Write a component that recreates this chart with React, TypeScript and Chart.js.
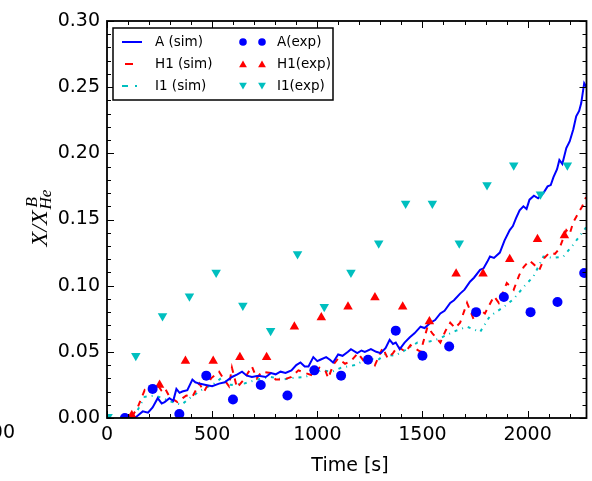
import React, { useEffect, useRef } from 'react';
import { Chart, registerables } from 'chart.js';
Chart.register(...registerables);

// ---- axis settings ----
const xMin = 0;
const xMax = 2280;
const yMin = 0;
const yMax = 0.3;
const xTickValues = [0, 500, 1000, 1500, 2000];
const yTickValues = [0, 0.05, 0.1, 0.15, 0.2, 0.25, 0.3];
const xMinorStep = 100;
const yMinorStep = 0.01;

// ---- experimental data ----
const aExpTime = [85, 217, 344, 472, 599, 731, 858, 986, 1113, 1241, 1373, 1500, 1627, 1755, 1887, 2014, 2142, 2269];
const aExpValue = [0.0, 0.022, 0.003, 0.032, 0.014, 0.025, 0.017, 0.036, 0.032, 0.044, 0.066, 0.047, 0.054, 0.08, 0.0915, 0.08, 0.0877, 0.1096];

const h1ExpTime = [118, 250, 373, 505, 632, 759, 891, 1019, 1146, 1274, 1406, 1533, 1660, 1788, 1915, 2047, 2175];
const h1ExpValue = [0.002, 0.025, 0.043, 0.043, 0.046, 0.046, 0.069, 0.076, 0.084, 0.091, 0.084, 0.073, 0.109, 0.109, 0.12, 0.135, 0.138];

const i1ExpTime = [5, 137, 264, 392, 519, 646, 778, 906, 1033, 1160, 1292, 1420, 1547, 1675, 1807, 1934, 2061, 2189];
const i1ExpValue = [0.001, 0.047, 0.077, 0.092, 0.11, 0.085, 0.066, 0.124, 0.084, 0.11, 0.132, 0.162, 0.162, 0.132, 0.176, 0.191, 0.169, 0.191];

// ---- simulation data ----
const aSimTime = [85, 110, 140, 170, 195, 217, 241, 260, 274, 297, 315, 330, 345, 358, 382, 406, 420, 439, 470, 500, 533, 560, 594, 620, 642, 665, 689, 720, 755, 780, 802, 825, 849, 877, 900, 920, 940, 958, 981, 1000, 1014, 1042, 1060, 1075, 1099, 1120, 1146, 1160, 1190, 1210, 1226, 1255, 1280, 1302, 1325, 1344, 1360, 1373, 1392, 1415, 1440, 1462, 1491, 1510, 1538, 1560, 1585, 1605, 1632, 1650, 1679, 1700, 1726, 1745, 1774, 1790, 1808, 1821, 1840, 1868, 1890, 1915, 1930, 1945, 1962, 1980, 1995, 2009, 2030, 2050, 2075, 2095, 2110, 2123, 2140, 2151, 2165, 2184, 2200, 2217, 2231, 2245, 2255, 2269, 2280];
const aSimValue = [0.0, 0.0, 0.001, 0.005, 0.004, 0.008, 0.015, 0.011, 0.012, 0.015, 0.013, 0.022, 0.019, 0.02, 0.021, 0.029, 0.027, 0.026, 0.025, 0.024, 0.026, 0.027, 0.031, 0.033, 0.035, 0.032, 0.031, 0.032, 0.031, 0.034, 0.033, 0.035, 0.034, 0.036, 0.04, 0.042, 0.039, 0.039, 0.046, 0.043, 0.044, 0.046, 0.044, 0.042, 0.048, 0.047, 0.05, 0.052, 0.049, 0.051, 0.05, 0.052, 0.05, 0.049, 0.053, 0.059, 0.056, 0.057, 0.052, 0.057, 0.061, 0.064, 0.069, 0.068, 0.072, 0.074, 0.079, 0.081, 0.087, 0.089, 0.094, 0.097, 0.103, 0.106, 0.112, 0.113, 0.118, 0.122, 0.121, 0.125, 0.134, 0.142, 0.145, 0.151, 0.157, 0.16, 0.158, 0.165, 0.168, 0.166, 0.17, 0.175, 0.176, 0.182, 0.188, 0.195, 0.192, 0.204, 0.209, 0.218, 0.228, 0.232, 0.238, 0.253, 0.25];

const h1SimTime = [118, 146, 179, 195, 212, 241, 258, 274, 297, 335, 360, 377, 406, 439, 462, 495, 533, 557, 580, 594, 618, 651, 689, 712, 736, 778, 802, 840, 877, 910, 943, 980, 1010, 1038, 1052, 1075, 1099, 1132, 1160, 1193, 1226, 1250, 1274, 1311, 1335, 1360, 1382, 1420, 1443, 1470, 1491, 1524, 1547, 1585, 1610, 1632, 1655, 1679, 1712, 1745, 1770, 1797, 1840, 1863, 1901, 1934, 1960, 1981, 2009, 2030, 2056, 2080, 2104, 2130, 2151, 2184, 2200, 2217, 2245, 2260, 2278];
const h1SimValue = [0.001, 0.008, 0.021, 0.019, 0.023, 0.025, 0.021, 0.023, 0.016, 0.012, 0.015, 0.017, 0.016, 0.026, 0.02, 0.03, 0.035, 0.029, 0.024, 0.038, 0.023, 0.029, 0.039, 0.03, 0.035, 0.034, 0.029, 0.029, 0.031, 0.036, 0.034, 0.032, 0.038, 0.036, 0.03, 0.04, 0.045, 0.041, 0.043, 0.049, 0.042, 0.046, 0.04, 0.053, 0.045, 0.049, 0.054, 0.05, 0.055, 0.052, 0.05, 0.069, 0.064, 0.057, 0.066, 0.072, 0.068, 0.072, 0.087, 0.074, 0.082, 0.079, 0.092, 0.087, 0.102, 0.097, 0.108, 0.114, 0.119, 0.116, 0.112, 0.121, 0.125, 0.124, 0.128, 0.142, 0.139, 0.148, 0.156, 0.16, 0.167];

const i1SimTime = [146, 179, 226, 264, 311, 354, 401, 448, 509, 542, 590, 651, 712, 778, 840, 863, 943, 1019, 1070, 1113, 1179, 1241, 1290, 1321, 1370, 1415, 1476, 1538, 1580, 1618, 1660, 1712, 1774, 1821, 1887, 1934, 1981, 2028, 2075, 2123, 2170, 2217, 2245, 2278];
const i1SimValue = [0.006, 0.016, 0.017, 0.015, 0.012, 0.01, 0.016, 0.021, 0.026, 0.03, 0.025, 0.026, 0.029, 0.031, 0.029, 0.03, 0.031, 0.036, 0.035, 0.038, 0.04, 0.045, 0.044, 0.048, 0.047, 0.051, 0.057, 0.058, 0.06, 0.063, 0.066, 0.069, 0.065, 0.077, 0.084, 0.09, 0.099, 0.107, 0.122, 0.121, 0.122, 0.131, 0.137, 0.144];

const seriesLabels = ['A (sim)', 'H1 (sim)', 'I1 (sim)', 'A(exp)', 'H1(exp)', 'I1(exp)'];

const BLUE = '#0000ff';
const RED = '#ff0000';
const CYAN = '#00bfbf';
const FONT = '"DejaVu Sans", sans-serif';

function zip(t: number[], v: number[]) {
  return t.map((x, i) => ({ x, y: v[i] }));
}

const decorPlugin = {
  id: 'decor',
  afterDraw(chart: any) {
    const { ctx, chartArea, scales } = chart;
    const { left, right, top, bottom } = chartArea;
    const xs = scales.x;
    const ys = scales.y;
    ctx.save();
    ctx.strokeStyle = '#000';
    ctx.fillStyle = '#000';

    // ticks (inward, all four sides)
    ctx.lineWidth = 1;
    ctx.beginPath();
    for (let v = xMin; v <= xMax + 1e-9; v += xMinorStep) {
      const px = Math.round(xs.getPixelForValue(v)) + 0.5;
      const major = xTickValues.includes(v);
      const len = major ? 7 : 4;
      ctx.moveTo(px, bottom);
      ctx.lineTo(px, bottom - len);
      ctx.moveTo(px, top);
      ctx.lineTo(px, top + len);
    }
    for (let i = 0; i <= Math.round((yMax - yMin) / yMinorStep); i++) {
      const v = yMin + i * yMinorStep;
      const py = Math.round(ys.getPixelForValue(v)) + 0.5;
      const major = i % 5 === 0;
      const len = major ? 7 : 4;
      ctx.moveTo(left, py);
      ctx.lineTo(left + len, py);
      ctx.moveTo(right, py);
      ctx.lineTo(right - len, py);
    }
    ctx.stroke();

    // frame
    ctx.lineWidth = 1.8;
    ctx.strokeRect(left, top, right - left, bottom - top);

    // legend
    const lx = 113, ly = 28, lw = 220, lh = 72;
    ctx.fillStyle = '#fff';
    ctx.fillRect(lx, ly, lw, lh);
    ctx.lineWidth = 1.5;
    ctx.strokeStyle = '#000';
    ctx.strokeRect(lx, ly, lw, lh);
    const rows = [42, 64, 86];
    ctx.font = '13.5px ' + FONT;
    ctx.textBaseline = 'middle';
    ctx.textAlign = 'left';
    ctx.fillStyle = '#000';
    ctx.fillText(seriesLabels[0], 155, rows[0]);
    ctx.fillText(seriesLabels[1], 155, rows[1]);
    ctx.fillText(seriesLabels[2], 155, rows[2]);
    ctx.fillText(seriesLabels[3], 277, rows[0]);
    ctx.fillText(seriesLabels[4], 277, rows[1]);
    ctx.fillText(seriesLabels[5], 277, rows[2]);
    ctx.lineWidth = 2;
    ctx.strokeStyle = BLUE;
    ctx.beginPath();
    ctx.moveTo(122, rows[0]);
    ctx.lineTo(142, rows[0]);
    ctx.stroke();
    ctx.strokeStyle = RED;
    ctx.beginPath();
    ctx.moveTo(125, rows[1]);
    ctx.lineTo(133, rows[1]);
    ctx.stroke();
    ctx.strokeStyle = CYAN;
    ctx.beginPath();
    ctx.moveTo(122, rows[2]);
    ctx.lineTo(128, rows[2]);
    ctx.moveTo(135, rows[2]);
    ctx.lineTo(137, rows[2]);
    ctx.stroke();
    const tri = (x: number, y: number, r: number, down: boolean) => {
      const s = down ? -1 : 1;
      ctx.beginPath();
      ctx.moveTo(x, y - s * r);
      ctx.lineTo(x + r * 0.866, y + s * r * 0.5);
      ctx.lineTo(x - r * 0.866, y + s * r * 0.5);
      ctx.closePath();
      ctx.fill();
    };
    for (const mx of [243, 262]) {
      ctx.fillStyle = BLUE;
      ctx.beginPath();
      ctx.arc(mx, rows[0], 3.8, 0, Math.PI * 2);
      ctx.fill();
      ctx.fillStyle = RED;
      tri(mx, rows[1] + 1, 4.5, false);
      ctx.fillStyle = CYAN;
      tri(mx, rows[2] - 1, 4.5, true);
    }

    // x title
    ctx.fillStyle = '#000';
    ctx.font = '19px ' + FONT;
    ctx.textAlign = 'center';
    ctx.textBaseline = 'middle';
    ctx.fillText('Time [s]', 350, 466);

    // fragment of neighbouring tick label at far left
    ctx.textAlign = 'right';
    ctx.fillText('2500', 15, 433);

    // y title: X/X_{He}^{B}
    ctx.save();
    ctx.translate(47, 218);
    ctx.rotate(-Math.PI / 2);
    ctx.textAlign = 'left';
    ctx.textBaseline = 'alphabetic';
    const mainFont = 'italic 24px "Liberation Serif", serif';
    const subFont = 'italic 17px "Liberation Serif", serif';
    ctx.font = mainFont;
    const mainText = 'X/X';
    const mw = ctx.measureText(mainText).width;
    ctx.font = subFont;
    const bw = ctx.measureText('B').width;
    const hw = ctx.measureText('He').width;
    const total = mw + Math.max(bw, hw) + 1;
    let x0 = -total / 2;
    ctx.font = mainFont;
    ctx.fillText(mainText, x0, 0);
    ctx.font = subFont;
    ctx.fillText('B', x0 + mw + 3, -10);
    ctx.fillText('He', x0 + mw + 1, 4);
    ctx.restore();

    ctx.restore();
  },
};

export default function App() {
  const canvasRef = useRef<HTMLCanvasElement | null>(null);

  useEffect(() => {
    document.body.style.margin = '0';
    const canvas = canvasRef.current;
    if (!canvas) return;
    const chart = new Chart(canvas, {
      type: 'scatter',
      data: {
        datasets: [
          {
            label: seriesLabels[3],
            data: zip(aExpTime, aExpValue),
            backgroundColor: BLUE,
            borderColor: BLUE,
            pointStyle: 'circle',
            pointRadius: 5,
            pointBorderWidth: 0,
            showLine: false,
          },
          {
            label: seriesLabels[4],
            data: zip(h1ExpTime, h1ExpValue),
            backgroundColor: RED,
            borderColor: RED,
            pointStyle: 'triangle',
            pointRadius: 5.5,
            pointBorderWidth: 0,
            showLine: false,
          },
          {
            label: seriesLabels[5],
            data: zip(i1ExpTime, i1ExpValue),
            backgroundColor: CYAN,
            borderColor: CYAN,
            pointStyle: 'triangle',
            pointRotation: 180,
            pointRadius: 5.5,
            pointBorderWidth: 0,
            showLine: false,
          },
          {
            label: seriesLabels[0],
            data: zip(aSimTime, aSimValue),
            borderColor: BLUE,
            backgroundColor: BLUE,
            borderWidth: 2,
            pointRadius: 0,
            showLine: true,
            tension: 0,
          },
          {
            label: seriesLabels[1],
            data: zip(h1SimTime, h1SimValue),
            borderColor: RED,
            backgroundColor: RED,
            borderWidth: 2,
            borderDash: [6, 6],
            pointRadius: 0,
            showLine: true,
            tension: 0,
          },
          {
            label: seriesLabels[2],
            data: zip(i1SimTime, i1SimValue),
            borderColor: CYAN,
            backgroundColor: CYAN,
            borderWidth: 2,
            borderDash: [3, 5, 1, 5],
            pointRadius: 0,
            showLine: true,
            tension: 0,
          },
        ],
      } as any,
      options: {
        animation: false,
        responsive: false,
        devicePixelRatio: 1,
        layout: { padding: { top: 21, right: 2, left: 0, bottom: 0 } },
        plugins: {
          legend: { display: false },
          tooltip: { enabled: false },
          title: { display: false },
        },
        scales: {
          x: {
            type: 'linear',
            min: xMin,
            max: xMax,
            grid: { display: false, drawTicks: false },
            border: { display: false },
            ticks: {
              color: '#000',
              font: { family: FONT, size: 19 },
              padding: 6,
              maxRotation: 0,
              callback: (v: any) => String(v),
            },
            afterBuildTicks: (scale: any) => {
              scale.ticks = xTickValues.map((v) => ({ value: v }));
            },
            afterFit: (scale: any) => {
              scale.height = 63;
            },
          },
          y: {
            type: 'linear',
            min: yMin,
            max: yMax,
            grid: { display: false, drawTicks: false },
            border: { display: false },
            ticks: {
              color: '#000',
              font: { family: FONT, size: 19 },
              padding: 7,
              callback: (v: any) => Number(v).toFixed(2),
            },
            afterBuildTicks: (scale: any) => {
              scale.ticks = yTickValues.map((v) => ({ value: v }));
            },
            afterFit: (scale: any) => {
              scale.width = 107;
            },
          },
        },
      } as any,
      plugins: [decorPlugin],
    });
    return () => chart.destroy();
  }, []);

  return (
    <canvas
      ref={canvasRef}
      width={592}
      height={481}
      style={{ display: 'block', width: 592, height: 481 }}
    />
  );
}
